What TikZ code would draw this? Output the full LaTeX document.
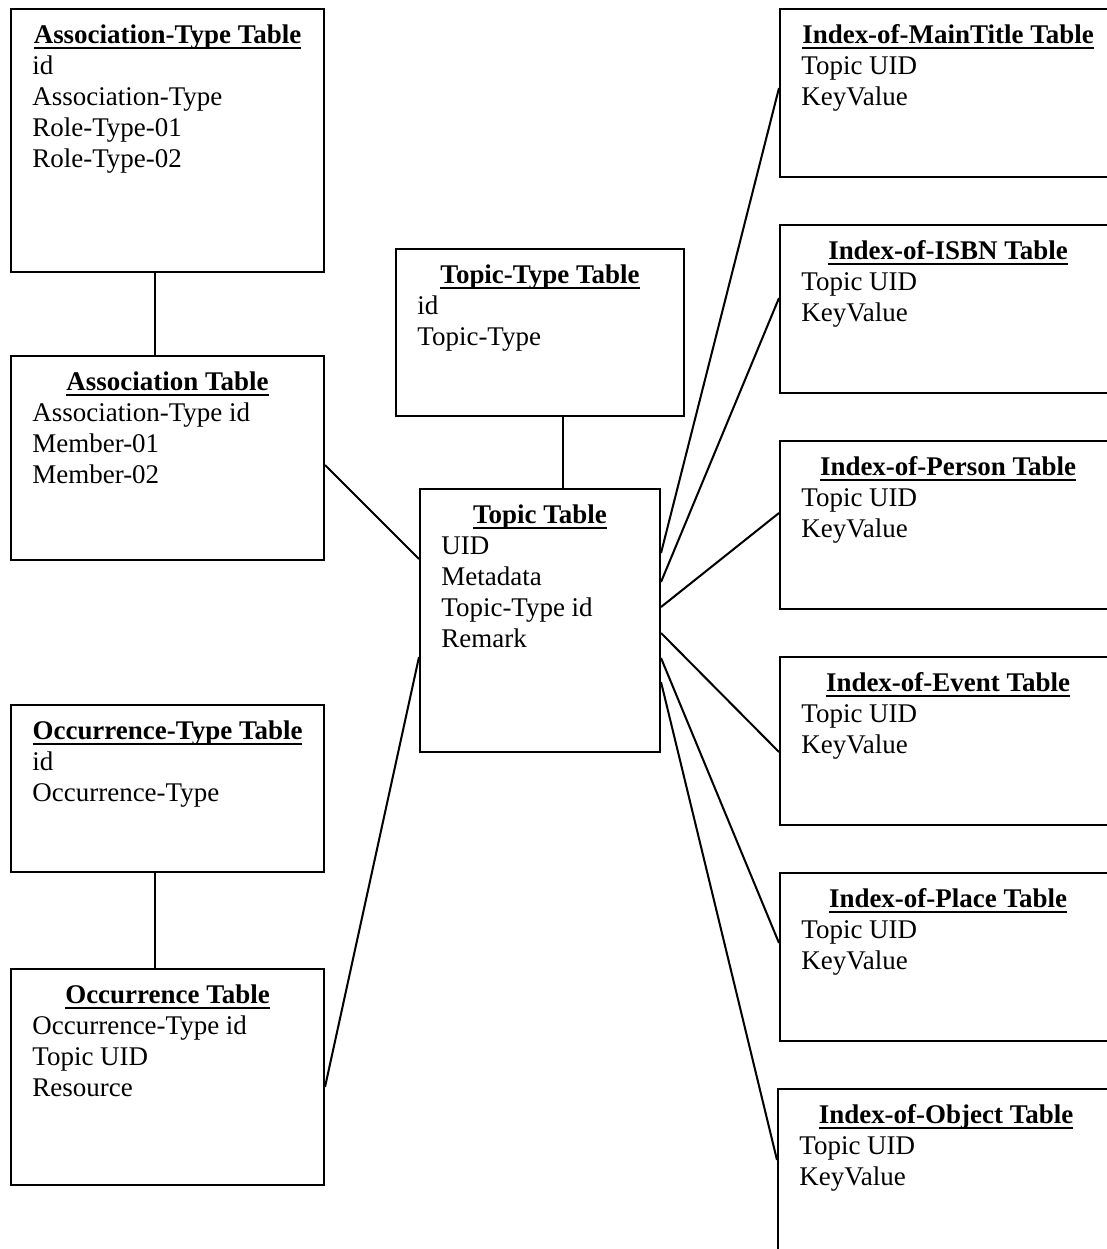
\documentclass[tikz,border=0pt]{standalone}
\usepackage{fontspec}
\setmainfont{Liberation Serif}
\usetikzlibrary{calc}
\tikzset{
  tbox/.style={draw,line width=0.9pt,rectangle,anchor=north west,inner sep=0pt},
  ttitle/.style={anchor=base,inner sep=0pt,font=\fontsize{12}{13.8}\selectfont\bfseries},
  titem/.style={anchor=base west,inner sep=0pt,font=\fontsize{12}{13.8}\selectfont},
  tline/.style={line width=0.9pt}
}
\newcommand{\tul}[1]{\setbox0\hbox{#1}\rlap{\rule[-2.4pt]{\wd0}{0.8pt}}\box0}
% name, x, y, width, height, title, fields
\newcommand{\dbtable}[7]{
  \node[tbox,minimum width={#4*0.445pt},minimum height={#5*0.445pt}] (#1) at (#2,#3) {};
  \node[ttitle] (#1-t) at ($(#1.north)+(0,35.5)$) {\tul{#6}};
  \foreach \f [count=\k] in {#7}
    \node[titem] (#1-\k) at ($(#1.north west)+(22,35+31*\k)$) {\f};
}
\begin{document}
\begin{tikzpicture}[x=0.445pt,y=-0.445pt]
\useasboundingbox(0,0)rectangle(1107,1249);
\clip(0,0)rectangle(1107,1249);
\fill[white](0,0)rectangle(1107,1249);
% left column
\dbtable{at}{10}{8}{313}{263}{Association-Type Table}{id,Association-Type,Role-Type-01,Role-Type-02}
\dbtable{as}{10}{355}{313}{204}{Association Table}{Association-Type id,Member-01,Member-02}
\dbtable{ot}{10}{704}{313}{167}{Occurrence-Type Table}{id,Occurrence-Type}
\dbtable{oc}{10}{968}{313}{216}{Occurrence Table}{Occurrence-Type id,Topic UID,Resource}
% middle
\dbtable{tt}{395}{248}{288}{167}{Topic-Type Table}{id,Topic-Type}
\dbtable{tp}{419}{488}{240}{263}{Topic Table}{UID,Metadata,Topic-Type id,Remark}
% index tables
\dbtable{mt}{779}{8}{336}{168}{Index-of-MainTitle Table}{Topic UID,KeyValue}
\dbtable{is}{779}{224}{336}{168}{Index-of-ISBN Table}{Topic UID,KeyValue}
\dbtable{pe}{779}{440}{336}{168}{Index-of-Person Table}{Topic UID,KeyValue}
\dbtable{ev}{779}{656}{336}{168}{Index-of-Event Table}{Topic UID,KeyValue}
\dbtable{pl}{779}{872}{336}{168}{Index-of-Place Table}{Topic UID,KeyValue}
\dbtable{ob}{777}{1088}{336}{200}{Index-of-Object Table}{Topic UID,KeyValue}
% links
\draw[tline]($(at.south west)+(145,0)$)--($(as.north west)+(145,0)$);
\draw[tline]($(ot.south west)+(145,0)$)--($(oc.north west)+(145,0)$);
\draw[tline]($(tt.south west)+(168,0)$)--($(tp.north west)+(144,0)$);
\draw[tline]($(as.north east)+(0,110)$)--($(tp.north west)+(0,71)$);
\draw[tline]($(oc.north east)+(0,119)$)--($(tp.north west)+(0,169)$);
\foreach \n/\a/\b in {mt/65/80,is/94/74,pe/119/73,ev/145/96,pl/170/71,ob/194/72}
  \draw[tline]($(tp.north east)+(0,\a)$)--($(\n.north west)+(0,\b)$);
\end{tikzpicture}
\end{document}
